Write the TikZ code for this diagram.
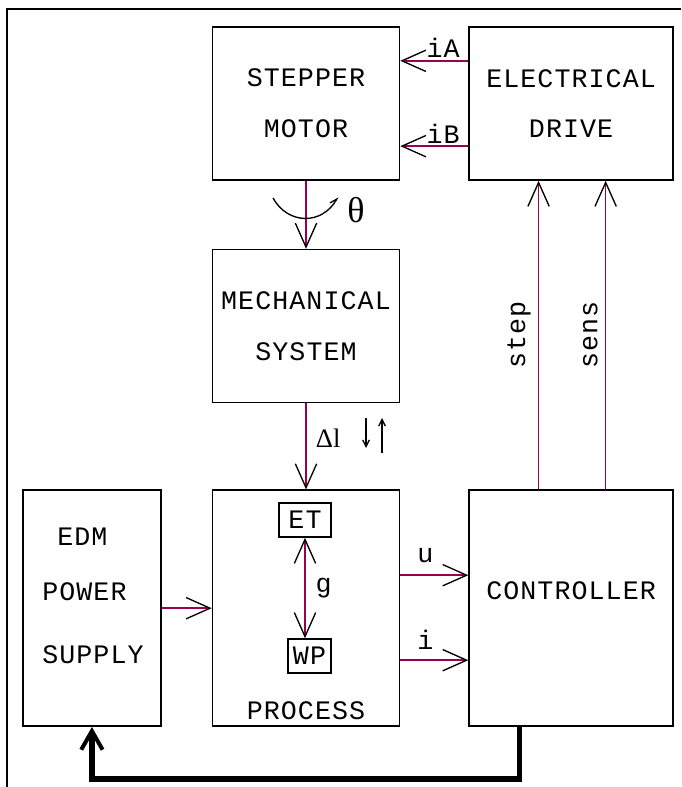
\documentclass[tikz,border=0pt]{standalone}
\usepackage{fontspec}
\setmainfont{Liberation Mono}[LetterSpace=4]
\newfontfamily\thetafont{Liberation Serif}
\usepackage{tikz}
\usetikzlibrary{positioning, arrows.meta, calc}
\definecolor{wire}{HTML}{990050}

\begin{document}
\begin{tikzpicture}[
    x=0.75pt, y=-0.75pt,
    every node/.style={font=\fontsize{20}{38}\selectfont, text=black},
    block/.style={draw, line width=1.2pt, minimum width=140.25pt, minimum height=114.75pt, align=center, inner sep=0pt},
    tag/.style={draw, line width=1.2pt, minimum height=25.5pt, inner sep=1pt},
    txt/.style={inner sep=0pt, anchor=base west},
    arr/.style={wire, line width=1.2pt, -{Straight Barb[length=18pt, width=16pt, color=black, line width=1pt]}},
    darr/.style={wire, line width=1.2pt, {Straight Barb[length=18pt, width=16pt, color=black, line width=1pt]}-{Straight Barb[length=18pt, width=16pt, color=black, line width=1pt]}},
    smallarr/.style={-{Straight Barb[length=5pt, width=5pt]}, line width=1pt}
]
\useasboundingbox (0,0) rectangle (681,787);

% Frame
\draw[line width=1.2pt] (7,787) -- (7,9) -- (681,9);

% Blocks
\node[block] (motor) at (306,103.5) {STEPPER\\MOTOR};
\node[block, minimum width=153pt, right=51pt of motor] (drive) {ELECTRICAL\\DRIVE};
\node[block, below=51pt of motor] (mech) {MECHANICAL\\SYSTEM};
\node[block, minimum height=177pt, below=64.5pt of mech] (proc) {};
\node[block, minimum width=103.5pt, minimum height=177pt, left=37.5pt of proc] (edm) {};
\node[block, minimum width=153pt, minimum height=177pt, right=51pt of proc] (ctrl) {};

% Texts in blocks
\node[txt] (edm1) at (57,545) {EDM};
\node[txt] (edm2) at (42,600) {POWER};
\node[txt] (edm3) at (42,663) {SUPPLY};
\node[anchor=base] (proclbl) at ([yshift=6pt]proc.south) {PROCESS};
\node (ctrllbl) at ($(ctrl.center)+(0,-17)$) {CONTROLLER};
\node[tag, minimum width=39pt] (et) at (305,520) {ET};
\node[tag, minimum width=32pt] (wp) at (309.5,656) {WP};

% Drive to motor
\draw[arr] ([yshift=32pt]drive.west) -- node[pos=0.37, above=-1.8pt] {iA} ([yshift=32pt]motor.east);
\draw[arr] ([yshift=-32pt]drive.west) -- node[pos=0.37, above=-1.8pt] {iB} ([yshift=-32pt]motor.east);

% Motor shaft
\draw[arr] (motor) -- (mech);
\draw[-{Straight Barb[left, length=5pt, width=6pt]}, line width=1pt] (273,198) .. controls (288,225) and (322,225) .. (338,197);
\node (theta) at (356,210) {\thetafont\fontsize{27}{27}\selectfont θ};

% Feed
\draw[arr] (mech) -- node[pos=0.4, right=3.5pt] {\thetafont Δl} (proc);
\draw[smallarr] (366,418) -- (366,448);
\draw[smallarr] (382,453) -- (382,418);

% Gap
\draw[darr] (et.south) -- node[right=4pt] {g} (et.south |- wp.north);

% Power and measurements
\draw[arr] (edm) -- (proc);
\draw[arr] ([yshift=24.75pt]proc.east) -- node[pos=0.37, above=5.3pt] {u} ([yshift=24.75pt]ctrl.west);
\draw[arr] ([yshift=-39pt]proc.east) -- node[pos=0.37, above=4pt] {i} ([yshift=-39pt]ctrl.west);

% Controller to drive
\coordinate (stepA) at ([xshift=-24.4pt]ctrl.north);
\coordinate (sensA) at ([xshift=25.9pt]ctrl.north);
\draw[arr] (stepA) -- node[sloped, above=2pt] {step} (stepA |- drive.south);
\draw[arr] (sensA) -- node[sloped, above=2pt] {sens} (sensA |- drive.south);

% Feedback to supply
\draw[line width=4pt, -{Straight Barb[length=14pt, width=16pt, line width=3pt]}] ([xshift=-38.6pt]ctrl.south) -- ++(0,52) -| (edm.south);

\end{tikzpicture}
\end{document}
